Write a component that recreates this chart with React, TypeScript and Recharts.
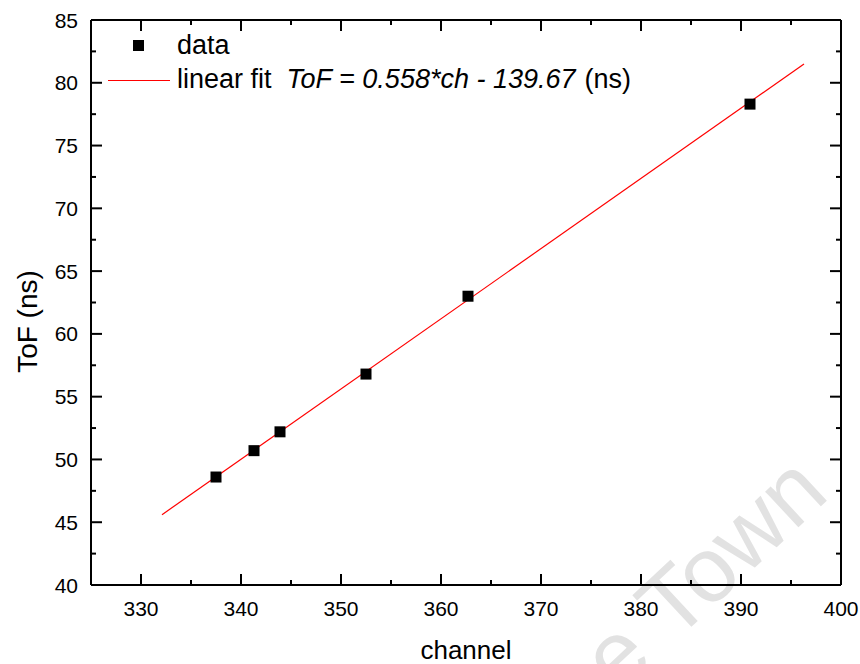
import { ScatterChart, Scatter, XAxis, YAxis, Legend } from 'recharts';

// measured points (channel vs time of flight)
const channels = [337.5, 341.3, 343.9, 352.5, 362.7, 390.9];
const tofValues = [48.6, 50.7, 52.2, 56.8, 63.0, 78.3];

// end points of the fitted line
const fitChannels = [332.1, 396.3];
const fitTof = [45.6, 81.5];

const xTicks = [325, 330, 335, 340, 345, 350, 355, 360, 365, 370, 375, 380, 385, 390, 395, 400];
const yTicks = [40, 42.5, 45, 47.5, 50, 52.5, 55, 57.5, 60, 62.5, 65, 67.5, 70, 72.5, 75, 77.5, 80, 82.5, 85];

const pointData = channels.map((ch, i) => ({ ch, tof: tofValues[i] }));
const fitData = fitChannels.map((ch, i) => ({ ch, tof: fitTof[i] }));

const FONT = '"Liberation Sans", Arial, Helvetica, sans-serif';

function AxisTick(props: any) {
  const { x, y, payload, side } = props;
  const v = payload.value;
  const vertical = side === 'left' || side === 'right';
  const major = vertical ? v % 5 === 0 : v % 10 === 0;
  const len = major ? 11 : 5;
  let line;
  if (side === 'bottom') line = <line x1={x} y1={y} x2={x} y2={y - len} />;
  else if (side === 'top') line = <line x1={x} y1={y} x2={x} y2={y + len} />;
  else if (side === 'left') line = <line x1={x} y1={y} x2={x + len} y2={y} />;
  else line = <line x1={x} y1={y} x2={x - len} y2={y} />;

  return (
    <g stroke="#000" strokeWidth={2}>
      {line}
      {major && side === 'bottom' && (
        <text x={x} y={y + 31} textAnchor="middle" fontSize={21} fontFamily={FONT} fill="#000" stroke="none">
          {v}
        </text>
      )}
      {major && side === 'left' && (
        <text x={x - 13} y={y} dy="0.36em" textAnchor="end" fontSize={21} fontFamily={FONT} fill="#000" stroke="none">
          {v}
        </text>
      )}
    </g>
  );
}

function LegendBox() {
  const text = { position: 'absolute' as const, left: 177, fontSize: 27, lineHeight: '27px', whiteSpace: 'nowrap' as const, color: '#000' };
  return (
    <div style={{ position: 'relative', width: 700, height: 100, fontFamily: FONT }}>
      <span style={{ position: 'absolute', left: 133, top: 40, width: 11, height: 11, background: '#000' }} />
      <span style={{ ...text, top: 32 }}>data</span>
      <span style={{ position: 'absolute', left: 108, top: 80, width: 62, height: 1, background: '#ff0000' }} />
      <span style={{ ...text, top: 66 }}>
        linear fit
        <i style={{ marginLeft: 15 }}>ToF = 0.558*ch - 139.67</i>
        <span style={{ marginLeft: 9 }}>(ns)</span>
      </span>
    </div>
  );
}

export default function App() {
  const axisLine = { stroke: '#000', strokeWidth: 2 };
  return (
    <div style={{ position: 'absolute', left: 0, top: 0, width: 860, height: 664, background: '#fff', fontFamily: FONT }}>
      <svg width={860} height={664} style={{ position: 'absolute', left: 0, top: 0 }}>
        <text x={674} y={643} transform="rotate(-43 674 643)" fontSize={92} fontFamily={FONT} fill="#e2e2e2" textAnchor="start">
          Town
        </text>
        <text x={674} y={643} transform="rotate(-43 674 643)" fontSize={92} fontFamily={FONT} fill="#e2e2e2" textAnchor="end">
          e{'\u00a0'}
        </text>
      </svg>
      <div style={{ position: 'absolute', left: 0, top: 0 }}>
        <ScatterChart width={860} height={664} margin={{ top: 0, right: 0, bottom: 0, left: 0 }}>
          <XAxis
            type="number"
            dataKey="ch"
            domain={[325, 400]}
            ticks={xTicks}
            allowDataOverflow
            interval={0}
            height={79}
            axisLine={axisLine}
            tickLine={false}
            tickSize={0}
            tickMargin={0}
            tick={(p: any) => <AxisTick {...p} side="bottom" />}
            label={(p: any) => {
              const vb = p.viewBox;
              return (
                <text x={vb.x + vb.width / 2} y={vb.y + 74} textAnchor="middle" fontSize={26} fontFamily={FONT} fill="#000">
                  channel
                </text>
              );
            }}
          />
          <XAxis
            xAxisId="top"
            orientation="top"
            type="number"
            dataKey="ch"
            domain={[325, 400]}
            ticks={xTicks}
            allowDataOverflow
            interval={0}
            height={20}
            axisLine={axisLine}
            tickLine={false}
            tickSize={0}
            tickMargin={0}
            tick={(p: any) => <AxisTick {...p} side="top" />}
          />
          <YAxis
            type="number"
            dataKey="tof"
            domain={[40, 85]}
            ticks={yTicks}
            allowDataOverflow
            interval={0}
            width={91}
            axisLine={axisLine}
            tickLine={false}
            tickSize={0}
            tickMargin={0}
            tick={(p: any) => <AxisTick {...p} side="left" />}
            label={(p: any) => {
              const vb = p.viewBox;
              const cy = vb.y + vb.height / 2 + 19;
              return (
                <text x={37} y={cy} transform={`rotate(-90 37 ${cy})`} textAnchor="middle" fontSize={28} fontFamily={FONT} fill="#000">
                  ToF (ns)
                </text>
              );
            }}
          />
          <YAxis
            yAxisId="right"
            orientation="right"
            type="number"
            dataKey="tof"
            domain={[40, 85]}
            ticks={yTicks}
            allowDataOverflow
            interval={0}
            width={19}
            axisLine={axisLine}
            tickLine={false}
            tickSize={0}
            tickMargin={0}
            tick={(p: any) => <AxisTick {...p} side="right" />}
          />
          <Legend
            layout="horizontal"
            verticalAlign="middle"
            align="center"
            wrapperStyle={{ left: 0, top: 0, width: 700, height: 100 }}
            content={() => <LegendBox />}
          />
          <Scatter
            name="linear fit"
            data={fitData}
            dataKey="tof"
            line={{ stroke: '#ff0000', strokeWidth: 1.2 }}
            shape={() => <g />}
            isAnimationActive={false}
          />
          <Scatter
            name="data"
            data={pointData}
            dataKey="tof"
            shape={(p: any) => <rect x={p.cx - 5.5} y={p.cy - 5.5} width={11} height={11} fill="#000" />}
            isAnimationActive={false}
          />
        </ScatterChart>
      </div>
    </div>
  );
}
